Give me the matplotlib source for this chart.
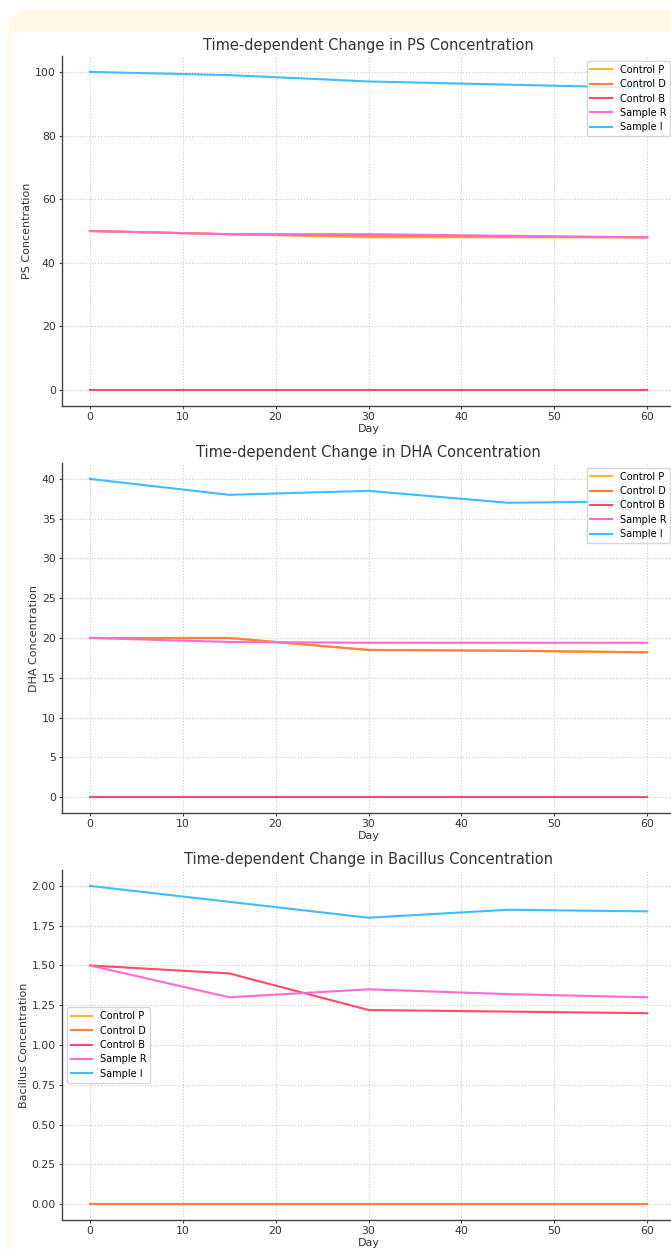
import numpy as np
import matplotlib
matplotlib.use("Agg")
import matplotlib.pyplot as plt
from matplotlib.patches import FancyBboxPatch, Rectangle

days = [0, 15, 30, 45, 60]
series_names = ["Control P", "Control D", "Control B", "Sample R", "Sample I"]
colors = ["#FFB52E", "#FF7F3F", "#FF4A68", "#FF6AD5", "#3DBEFF"]

ps_control_p = [50, 49, 48, 48, 48]
ps_control_d = [50, 49, 48.5, 48.3, 48]
ps_control_b = [0, 0, 0, 0, 0]
ps_sample_r = [50, 49, 49, 48.5, 48]
ps_sample_i = [100, 99, 97, 96, 95]

dha_control_p = [20, 20, 18.5, 18.4, 18.2]
dha_control_d = [20, 20, 18.5, 18.4, 18.2]
dha_control_b = [0, 0, 0, 0, 0]
dha_sample_r = [20, 19.5, 19.4, 19.4, 19.4]
dha_sample_i = [40, 38, 38.5, 37, 37.2]

bac_control_p = [0, 0, 0, 0, 0]
bac_control_d = [0, 0, 0, 0, 0]
bac_control_b = [1.5, 1.45, 1.22, 1.21, 1.2]
bac_sample_r = [1.5, 1.3, 1.35, 1.32, 1.3]
bac_sample_i = [2.0, 1.9, 1.8, 1.85, 1.84]

panels = [
    ("Time-dependent Change in PS Concentration", "PS Concentration",
     [ps_control_p, ps_control_d, ps_control_b, ps_sample_r, ps_sample_i]),
    ("Time-dependent Change in DHA Concentration", "DHA Concentration",
     [dha_control_p, dha_control_d, dha_control_b, dha_sample_r, dha_sample_i]),
    ("Time-dependent Change in Bacillus Concentration", "Bacillus Concentration",
     [bac_control_p, bac_control_d, bac_control_b, bac_sample_r, bac_sample_i]),
]

W, H = 671, 1249
fig = plt.figure(figsize=(W / 100, H / 100), dpi=100)
fig.patch.set_facecolor("white")

# cream frame behind the chart (screenshot border)
fig.patches.append(FancyBboxPatch((7 / W, -0.05), 1.2, 1 - 10 / H + 0.05,
                                  boxstyle="round,pad=0,rounding_size=0.03",
                                  transform=fig.transFigure, facecolor="#FEF8E4",
                                  edgecolor="none", zorder=-2))
fig.patches.append(Rectangle((12 / W, -0.05), 1.2, 1 - 32 / H + 0.05,
                             transform=fig.transFigure, facecolor="white",
                             edgecolor="none", zorder=-1))

# axes boxes in pixels: (top, bottom)
boxes = [(56, 406), (463, 813), (870, 1220)]
left, right = 62, 675

for i, (title, ylabel, data) in enumerate(panels):
    top, bottom = boxes[i]
    ax = fig.add_axes([left / W, 1 - bottom / H, (right - left) / W, (bottom - top) / H])
    ax.set_zorder(1)
    ax.set_facecolor("none")
    for name, vals, c in zip(series_names, data, colors):
        ax.plot(days, vals, color=c, lw=1.5, label=name)
    ax.set_title(title, fontsize=10.5, color="#333333", pad=4)
    ax.set_xlabel("Day", fontsize=8, color="#333333", labelpad=1)
    ax.set_ylabel(ylabel, fontsize=8, color="#333333", labelpad=2)
    ax.grid(True, linestyle=":", color="#cccccc", lw=0.8)
    ax.set_axisbelow(True)
    for s in ["top", "right"]:
        ax.spines[s].set_visible(False)
    for s in ["left", "bottom"]:
        ax.spines[s].set_color("#444444")
        ax.spines[s].set_linewidth(1.0)
    ax.tick_params(labelsize=7.8, colors="#444444", labelcolor="#333333",
                   length=2.5, pad=2)
    if i < 2:
        ax.legend(loc="upper right", bbox_to_anchor=(1.0, 1.0), fontsize=7,
                  frameon=True, handlelength=2.2, borderpad=0.4, labelspacing=0.45)
    else:
        ax.legend(loc="center left", fontsize=7,
                  frameon=True, handlelength=2.2, borderpad=0.4, labelspacing=0.45)

fig.savefig("out.png", dpi=100, facecolor=fig.get_facecolor())
